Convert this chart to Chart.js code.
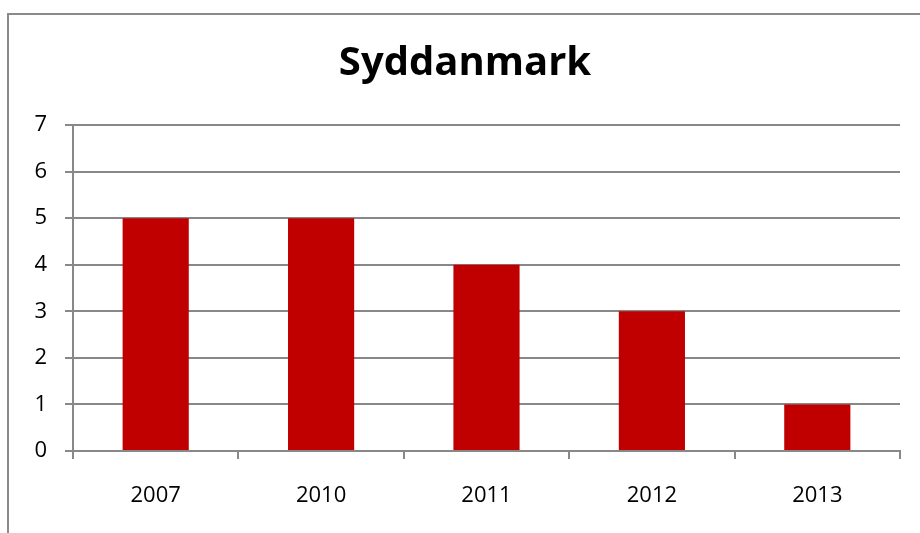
<!DOCTYPE html>
<html>
<head>
<meta charset="utf-8">
<script src="https://cdn.jsdelivr.net/npm/chart.js@4"></script>
<style>
  html, body { margin: 0; padding: 0; background: #fff; }
  #wrap { position: relative; width: 920px; height: 533px; overflow: hidden; }
  #frame {
    position: absolute; left: 7px; top: 13px; width: 1000px; height: 600px;
    border-left: 2px solid #8a8a8a; border-top: 2px solid #8a8a8a;
  }
  canvas { position: absolute; left: 0; top: 0; }
</style>
</head>
<body>
<div id="wrap">
  <div id="frame"></div>
  <canvas id="chart" width="920" height="533"></canvas>
</div>
<script>
const years = ["2007", "2010", "2011", "2012", "2013"];
const counts = [5, 5, 4, 3, 1];
const yTicks = [0, 1, 2, 3, 4, 5, 6, 7];

const gray = "#888888";
const font = "'Open Sans', 'DejaVu Sans', sans-serif";

const ctx = document.getElementById("chart").getContext("2d");

new Chart(ctx, {
    type: "bar",
    data: {
        labels: years,
        datasets: [{
            label: "Syddanmark",
            data: counts,
            backgroundColor: "#c00000",
            borderWidth: 0,
            barPercentage: 0.4,
            categoryPercentage: 1
        }]
    },
    options: {
        responsive: false,
        animation: false,
        // left padding pushes the title centre right, y axis width makes up the rest
        layout: { padding: { left: 30, right: 20, top: 0, bottom: 0 } },
        plugins: {
            legend: { display: false },
            tooltip: { enabled: false },
            title: {
                display: true,
                text: "Syddanmark",
                color: "#000",
                font: { family: font, size: 40, weight: "bold", lineHeight: 1.2 },
                padding: { top: 40, bottom: 37 }
            }
        },
        scales: {
            x: {
                grid: {
                    offset: true,
                    drawOnChartArea: false,
                    color: gray,
                    lineWidth: 2,
                    tickLength: 8
                },
                border: { color: gray, width: 2 },
                ticks: {
                    color: "#000",
                    font: { family: font, size: 22 },
                    padding: 24
                },
                afterFit: s => { s.height = 82; }
            },
            y: {
                min: 0,
                max: 7,
                afterBuildTicks: s => { s.ticks = yTicks.map(v => ({ value: v })); },
                grid: { color: gray, lineWidth: 2, tickLength: 8 },
                border: { color: gray, width: 2 },
                ticks: {
                    color: "#000",
                    font: { family: font, size: 22 },
                    padding: 18
                },
                afterFit: s => { s.width = 43; }
            }
        }
    }
});
</script>
</body>
</html>
